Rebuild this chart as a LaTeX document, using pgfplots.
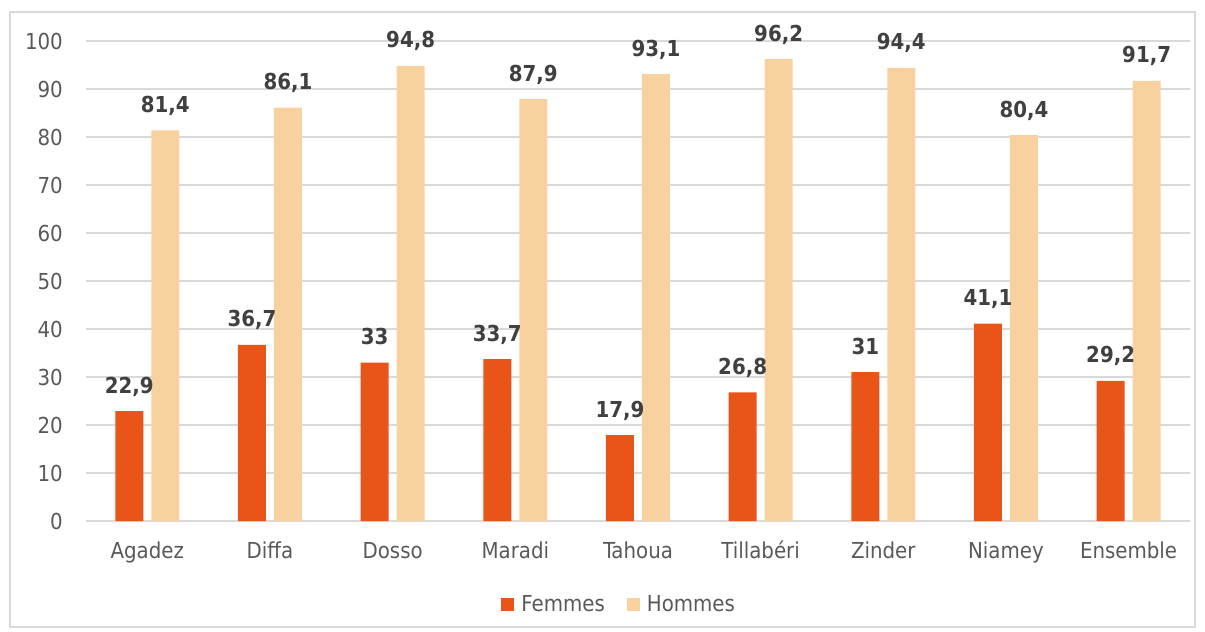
\documentclass[border=0pt]{standalone}
\usepackage{fontspec}
\setmainfont{DejaVu Sans Condensed}
\usepackage{pgfplots}
\pgfplotsset{compat=1.18}
\definecolor{femmes}{HTML}{E95419}
\definecolor{hommes}{HTML}{F8D29E}
\definecolor{gridgray}{HTML}{D9D9D9}
\definecolor{ticktext}{HTML}{595959}
\definecolor{valtext}{HTML}{404040}

\begin{document}
\begin{tikzpicture}
% page and outer frame, in pixels of the reference (origin = axis lower left)
\path (-86bp,-111bp) rectangle (1119bp,521bp);
\draw[gridgray, line width=1.3bp] (-76bp,-106bp) rectangle (1109bp,509bp);
\begin{axis}[
    at={(0,0)}, anchor=south west,
    scale only axis,
    width=1104bp, height=480bp,
    ybar=8bp, bar width=28bp,
    xmin=-0.5, xmax=8.5,
    ymin=0, ymax=100,
    xtick={0,...,8},
    xticklabels={Agadez,Diffa,Dosso,Maradi,Tahoua,Tillabéri,Zinder,Niamey,Ensemble},
    ytick={0,10,...,100},
    major tick length=0pt,
    axis x line*=bottom,
    axis y line*=left,
    y axis line style={draw=none},
    x axis line style={draw=gridgray, line width=1.5bp, -},
    ymajorgrids,
    grid style={gridgray, line width=1.3bp},
    tick label style={font=\fontsize{22bp}{24bp}\selectfont, text=ticktext},
    yticklabel style={inner sep=0pt, anchor=east, xshift=-23bp},
    xticklabel style={inner sep=0pt, anchor=base, yshift=-37bp},
    /pgf/number format/assume math mode=true,
    nodes near coords={\pgfmathprintnumber[use comma, fixed, precision=1, assume math mode=true]{\pgfplotspointmeta}},
    every node near coord/.append style={font=\bfseries\fontsize{22bp}{24bp}\selectfont, text=valtext, anchor=base, inner sep=0pt, yshift=18bp},
    legend style={draw=none, fill=none, at={(0.483,-0.173)}, anchor=center,
        legend columns=2, font=\fontsize{22bp}{24bp}\selectfont, text=ticktext,
        /tikz/every even column/.append style={column sep=20bp}},
    legend image code/.code={\fill[#1] (0bp,-6.5bp) rectangle (13bp,6.5bp);},
]
\addplot[draw=none, fill=femmes] coordinates {
    (0,22.9) (1,36.7) (2,33) (3,33.7) (4,17.9) (5,26.8) (6,31) (7,41.1) (8,29.2)};
\addplot[draw=none, fill=hommes] coordinates {
    (0,81.4) (1,86.1) (2,94.8) (3,87.9) (4,93.1) (5,96.2) (6,94.4) (7,80.4) (8,91.7)};
\legend{\hspace{5bp}Femmes,\hspace{5bp}Hommes}
\end{axis}
\end{tikzpicture}
\end{document}
